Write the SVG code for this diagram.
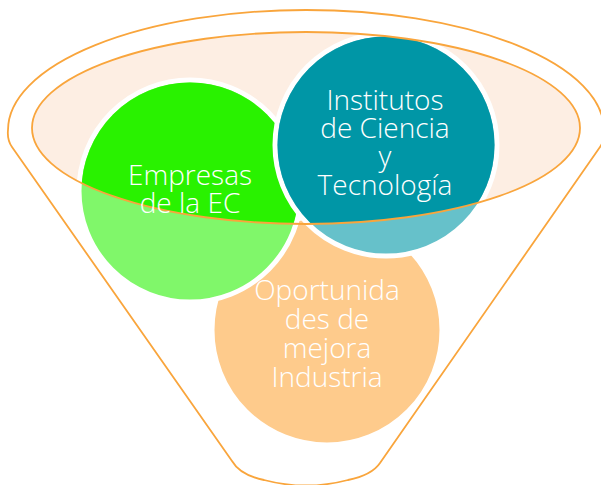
<svg xmlns="http://www.w3.org/2000/svg" width="601" height="485" viewBox="0 0 601 485">
  <style>
    .rim { fill: none; stroke: #F9A53C; stroke-width: 1.8; }
    .node-circle { stroke: #FFFFFF; stroke-width: 5; }
    .label { fill: #FFFFFF; font-family: "Open Sans", "Lato", "Liberation Sans", sans-serif; font-weight: 300; font-size: 28px; text-anchor: middle; }
  </style>
  <defs>
    <clipPath id="rimClip">
      <ellipse cx="306" cy="128" rx="274" ry="96"/>
    </clipPath>
  </defs>
  <rect width="601" height="485" fill="#FFFFFF"/>

  <g id="funnel">
    <path class="rim" d="M 232,461 L 12,147 Q 7,140 8,130 A 298 120 0 0 1 604,130 Q 605,140 600,147 L 380,463 Q 372,475 348,480 Q 306,491 264,480 Q 240,475 232,461 Z"/>
    <ellipse cx="306" cy="128" rx="274" ry="96" fill="#FDEEE3"/>
  </g>

  <g id="node-oportunidades">
    <circle class="node-circle" cx="327" cy="330" r="115" fill="#FECB8C"/>
  </g>
  <g id="node-empresas">
    <circle class="node-circle" cx="190" cy="191" r="111" fill="#80F76A"/>
    <circle cx="190" cy="191" r="108.5" fill="#29F200" clip-path="url(#rimClip)"/>
  </g>
  <g id="node-institutos">
    <circle class="node-circle" cx="386" cy="145" r="111" fill="#66C1CA"/>
    <circle cx="386" cy="145" r="108.5" fill="#0096A6" clip-path="url(#rimClip)"/>
  </g>

  <g id="connectors">
    <ellipse class="rim" cx="306" cy="128" rx="274" ry="96"/>
  </g>

  <g id="labels">
    <text class="label" x="190" y="185">Empresas</text>
    <text class="label" x="190" y="213">de la EC</text>
    <text class="label" x="385" y="110">Institutos</text>
    <text class="label" x="385" y="138">de Ciencia</text>
    <text class="label" x="385" y="166">y</text>
    <text class="label" x="385" y="195">Tecnología</text>
    <text class="label" x="327" y="300">Oportunida</text>
    <text class="label" x="327" y="329">des de</text>
    <text class="label" x="327" y="358">mejora</text>
    <text class="label" x="327" y="387">Industria</text>
  </g>
</svg>
